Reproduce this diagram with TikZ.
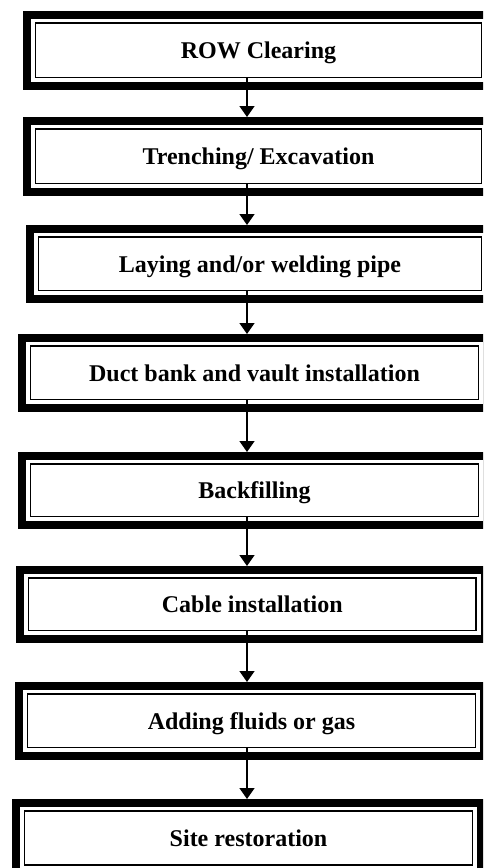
\documentclass[tikz,border=0pt]{standalone}
\usepackage{fontspec}
\setmainfont{Liberation Serif}
\usetikzlibrary{arrows.meta,fit}
\tikzset{
  x=1pt,y=-1pt,
  boxtext/.style={font=\fontsize{24}{28}\selectfont\bfseries, inner sep=0pt},
  outerline/.style={line width=8pt},
  innerline/.style={line width=1.8pt},
  arr/.style={line width=1.5pt, -{Triangle[width=15pt,length=11pt]}}
}
\newcommand\flowbox[6]{%
  \node[inner sep=0pt, outer sep=0pt, fit={(#2,#3) (#4,#5)}] (#1) {};
  \draw[outerline] ([xshift=4pt,yshift=-4pt]#1.north west) rectangle ([xshift=-4pt,yshift=4pt]#1.south east);
  \draw[innerline] ([xshift=12.5pt,yshift=-12pt]#1.north west) rectangle ([xshift=-12.5pt,yshift=12.5pt]#1.south east);
  \node[boxtext, anchor=base] (#1t) at ([yshift=-8pt]#1.center) {#6};
}
\begin{document}
\begin{tikzpicture}
\useasboundingbox (0,0) rectangle (483,868);
\clip (0,0) rectangle (483,868);
\fill[white] (0,0) rectangle (483,868);
\flowbox{b1}{23}{11}{494}{90}{ROW Clearing}
\flowbox{b2}{23}{117}{494}{196}{Trenching/ Excavation}
\flowbox{b3}{26}{225}{494}{303}{Laying and/or welding pipe}
\flowbox{b4}{18}{334}{491}{412}{Duct bank and vault installation}
\flowbox{b5}{18}{452}{491}{529}{Backfilling}
\flowbox{b6}{16}{566}{488.5}{643}{Cable installation}
\flowbox{b7}{15}{682}{488}{760}{Adding fluids or gas}
\flowbox{b8}{12}{799}{485}{877.5}{Site restoration}
\coordinate (ax) at (247,0);
\foreach \a/\b in {b1/b2,b2/b3,b3/b4,b4/b5,b5/b6,b6/b7,b7/b8}{
  \draw[arr] ([yshift=12.5pt]\a.south -| ax) -- (\b.north -| ax);
}
\end{tikzpicture}
\end{document}
